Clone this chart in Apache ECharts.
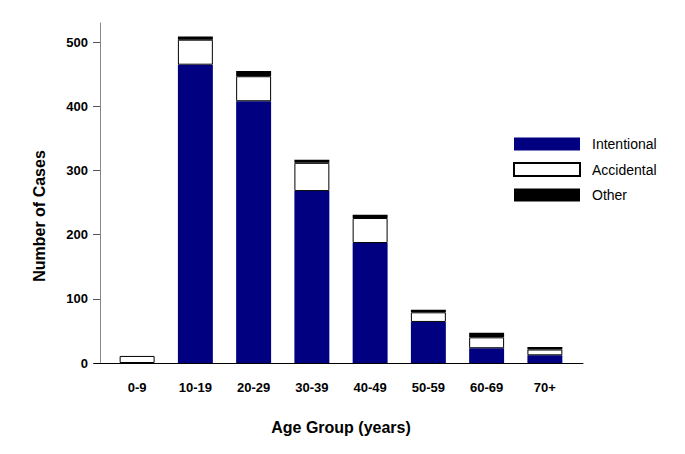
<!DOCTYPE html>
<html>
<head>
<meta charset="utf-8">
<script src="https://cdn.jsdelivr.net/npm/echarts@6/dist/echarts.min.js"></script>
<style>
html,body{margin:0;padding:0;background:#fff;}
#chart{width:685px;height:454px;}
</style>
</head>
<body>
<div id="chart"></div>
<script>
var categories = ['0-9', '10-19', '20-29', '30-39', '40-49', '50-59', '60-69', '70+'];
var intentional = [0, 465, 408, 268, 187, 64, 23, 12];
var accidental = [11, 39, 39, 44, 39, 15, 17, 9];
var other = [0, 5, 8, 5, 5, 4, 7, 4];
var yTicks = [0, 100, 200, 300, 400, 500];

var FONT = 'Liberation Sans, Arial, sans-serif';
var chart = echarts.init(document.getElementById('chart'), null, {renderer: 'svg'});
chart.setOption({
  animation: false,
  backgroundColor: '#fff',
  grid: [
    {left: 108, width: 466, top: 23, height: 340},
    {left: 94, right: 102, top: 23, height: 340}
  ],
  legend: {
    orient: 'vertical',
    left: 508,
    top: 132,
    icon: 'rect',
    itemWidth: 66,
    itemHeight: 13,
    itemGap: 11,
    textStyle: {fontFamily: FONT, fontSize: 14, color: '#000', padding: [0, 0, 0, 7]},
    data: ['Intentional', 'Accidental', 'Other']
  },
  xAxis: [
    {
      type: 'category',
      gridIndex: 0,
      data: categories,
      axisLine: {show: false},
      axisTick: {show: false},
      axisLabel: {fontFamily: FONT, fontSize: 13, fontWeight: 'bold', color: '#000', margin: 18},
      name: 'Age Group (years)',
      nameLocation: 'middle',
      nameGap: 56,
      nameTextStyle: {fontFamily: FONT, fontSize: 16, fontWeight: 'bold', color: '#000'}
    },
    {
      type: 'value',
      gridIndex: 1,
      min: 0,
      max: 1,
      z: 5,
      axisLine: {show: true, lineStyle: {color: '#000', width: 1}},
      axisTick: {show: false},
      axisLabel: {show: false},
      splitLine: {show: false}
    }
  ],
  yAxis: [
    {
      type: 'value',
      gridIndex: 0,
      min: 0,
      max: 530,
      interval: 100,
      offset: 8,
      axisLine: {show: true, lineStyle: {color: '#888', width: 1}},
      axisTick: {show: true, length: 7, lineStyle: {color: '#555'}, customValues: yTicks},
      axisLabel: {fontFamily: FONT, fontSize: 13, fontWeight: 'bold', color: '#000', margin: 12, customValues: yTicks},
      splitLine: {show: false},
      name: 'Number of Cases',
      nameLocation: 'middle',
      nameGap: 53,
      nameTextStyle: {fontFamily: FONT, fontSize: 16, fontWeight: 'bold', color: '#000', padding: [0, 46, 0, 0]}
    },
    {
      type: 'value',
      gridIndex: 1,
      show: false
    }
  ],
  series: [
    {
      name: 'Intentional',
      type: 'bar',
      stack: 'total',
      barWidth: '60%',
      data: intentional,
      itemStyle: {color: '#000080', borderColor: '#1a1a80', borderWidth: 0}
    },
    {
      name: 'Accidental',
      type: 'bar',
      stack: 'total',
      barWidth: '60%',
      data: accidental,
      itemStyle: {color: '#ffffff', borderColor: '#000', borderWidth: 1}
    },
    {
      name: 'Other',
      type: 'bar',
      stack: 'total',
      barWidth: '60%',
      data: other,
      itemStyle: {color: '#000000', borderWidth: 0}
    }
  ]
});
</script>
</body>
</html>
